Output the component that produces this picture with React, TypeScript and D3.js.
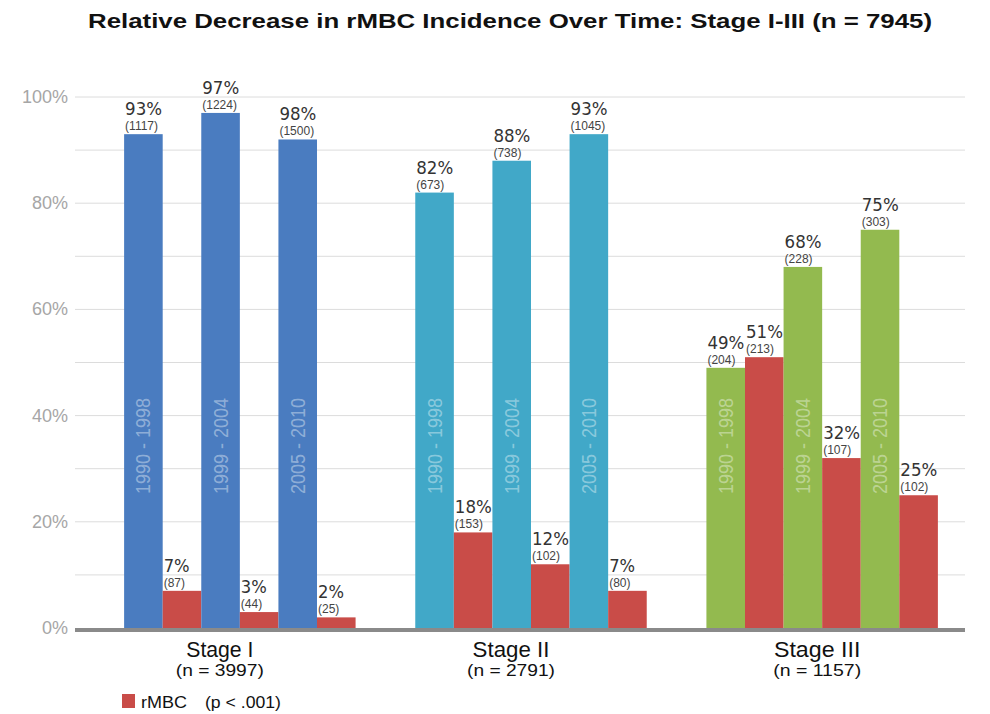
import React from 'react';
import * as d3 from 'd3';

const stages = ['Stage I', 'Stage II', 'Stage III'];
const stageN = ['(n = 3997)', '(n = 2791)', '(n = 1157)'];
const periods = ['1990 - 1998', '1999 - 2004', '2005 - 2010'];
// label values per stage / period
const periodPct = [[93, 97, 98], [82, 88, 93], [49, 68, 75]];
// bar heights as drawn in the source (the "98%" bar is drawn lower)
const periodBar = [[93, 97, 92], [82, 88, 93], [49, 68, 75]];
const periodCounts = [[1117, 1224, 1500], [673, 738, 1045], [204, 228, 303]];
const rmbcPct = [[7, 3, 2], [18, 12, 7], [51, 32, 25]];
const rmbcCounts = [[87, 44, 25], [153, 102, 80], [213, 107, 102]];
const yTicks = [0, 20, 40, 60, 80, 100];
const gridTicks = [10, 20, 30, 40, 50, 60, 70, 80, 90, 100];

const stageColors = ['#4a7cc0', '#41a8c8', '#93ba4f'];
const red = '#c94c48';

const W = 990;
const H = 714;
const left = 75;
const right = 965;

const App = () => {
  const y = d3.scaleLinear().domain([0, 100]).range([628, 97]);
  const x0 = d3.scaleBand().domain(stages).range([95, 967]).paddingInner(0.205).paddingOuter(0.1);
  const slots = ['p0', 'r0', 'p1', 'r1', 'p2', 'r2'];
  const x1 = d3.scaleBand().domain(slots).range([0, x0.bandwidth()]);

  const bars: any[] = [];
  stages.forEach((s, si) => {
    periods.forEach((p, pi) => {
      bars.push({
        key: `${s}-p${pi}`, x: x0(s)! + x1('p' + pi)!, v: periodBar[si][pi],
        pct: periodPct[si][pi], n: periodCounts[si][pi], color: stageColors[si], period: p,
      });
      bars.push({
        key: `${s}-r${pi}`, x: x0(s)! + x1('r' + pi)!, v: rmbcPct[si][pi],
        pct: rmbcPct[si][pi], n: rmbcCounts[si][pi], color: red, period: null,
      });
    });
  });
  const bw = x1.bandwidth();

  return (
    <svg width={W} height={H} style={{ position: 'absolute', left: 0, top: 0, background: '#fff' }}
      fontFamily="'Liberation Sans', Arial, sans-serif">
      <text x={88} y={28} fontSize={20} fontWeight="bold" fill="#111" textLength={844}
        lengthAdjust="spacingAndGlyphs">
        Relative Decrease in rMBC Incidence Over Time: Stage I-III (n = 7945)
      </text>

      {gridTicks.map(t => (
        <line key={t} x1={left} x2={right} y1={y(t)} y2={y(t)} stroke="#dcdcdc" strokeWidth={1} />
      ))}
      {yTicks.map(t => (
        <text key={t} x={68} y={y(t) + 6} textAnchor="end" fontSize={18} fill="#a6a6a6">
          {t}%
        </text>
      ))}

      {bars.map(b => (
        <g key={b.key}>
          <rect x={b.x} y={y(b.v)} width={bw} height={y(0) - y(b.v)} fill={b.color} />
          <text x={b.x + 1} y={y(b.v) - 19} fontSize={17.5} fill="#333"
            fontFamily="'DejaVu Sans', sans-serif" textLength={String(b.pct).length * 11 + 15}
            lengthAdjust="spacingAndGlyphs">{b.pct}%</text>
          <text x={b.x + 1} y={y(b.v) - 4} fontSize={12} fill="#444">({b.n})</text>
          {b.period && (
            <text transform={`translate(${b.x + bw / 2},446) rotate(-90)`} textAnchor="middle"
              dominantBaseline="central" fontSize={20} fill="#fff" fillOpacity={0.4}
              textLength={96} lengthAdjust="spacingAndGlyphs">{b.period}</text>
          )}
        </g>
      ))}

      <line x1={left} x2={right} y1={630} y2={630} stroke="#8a8a8a" strokeWidth={4} />

      {stages.map((s, i) => {
        const cx = x0(s)! + x0.bandwidth() / 2 - (i < 2 ? 20 : 5);
        return (
          <g key={s}>
            <text x={cx} y={657} textAnchor="middle" fontSize={22} fill="#111"
              textLength={s.length * 9.6} lengthAdjust="spacingAndGlyphs">{s}</text>
            <text x={cx} y={676} textAnchor="middle" fontSize={16} fill="#111"
              textLength={88} lengthAdjust="spacingAndGlyphs">{stageN[i]}</text>
          </g>
        );
      })}

      <rect x={122} y={694} width={13} height={14} fill={red} />
      <text x={141} y={708} fontSize={17} fill="#111" textLength={46} lengthAdjust="spacingAndGlyphs">rMBC</text>
      <text x={205} y={708} fontSize={17} fill="#111" textLength={76} lengthAdjust="spacingAndGlyphs">(p &lt; .001)</text>
    </svg>
  );
};

export default App;
